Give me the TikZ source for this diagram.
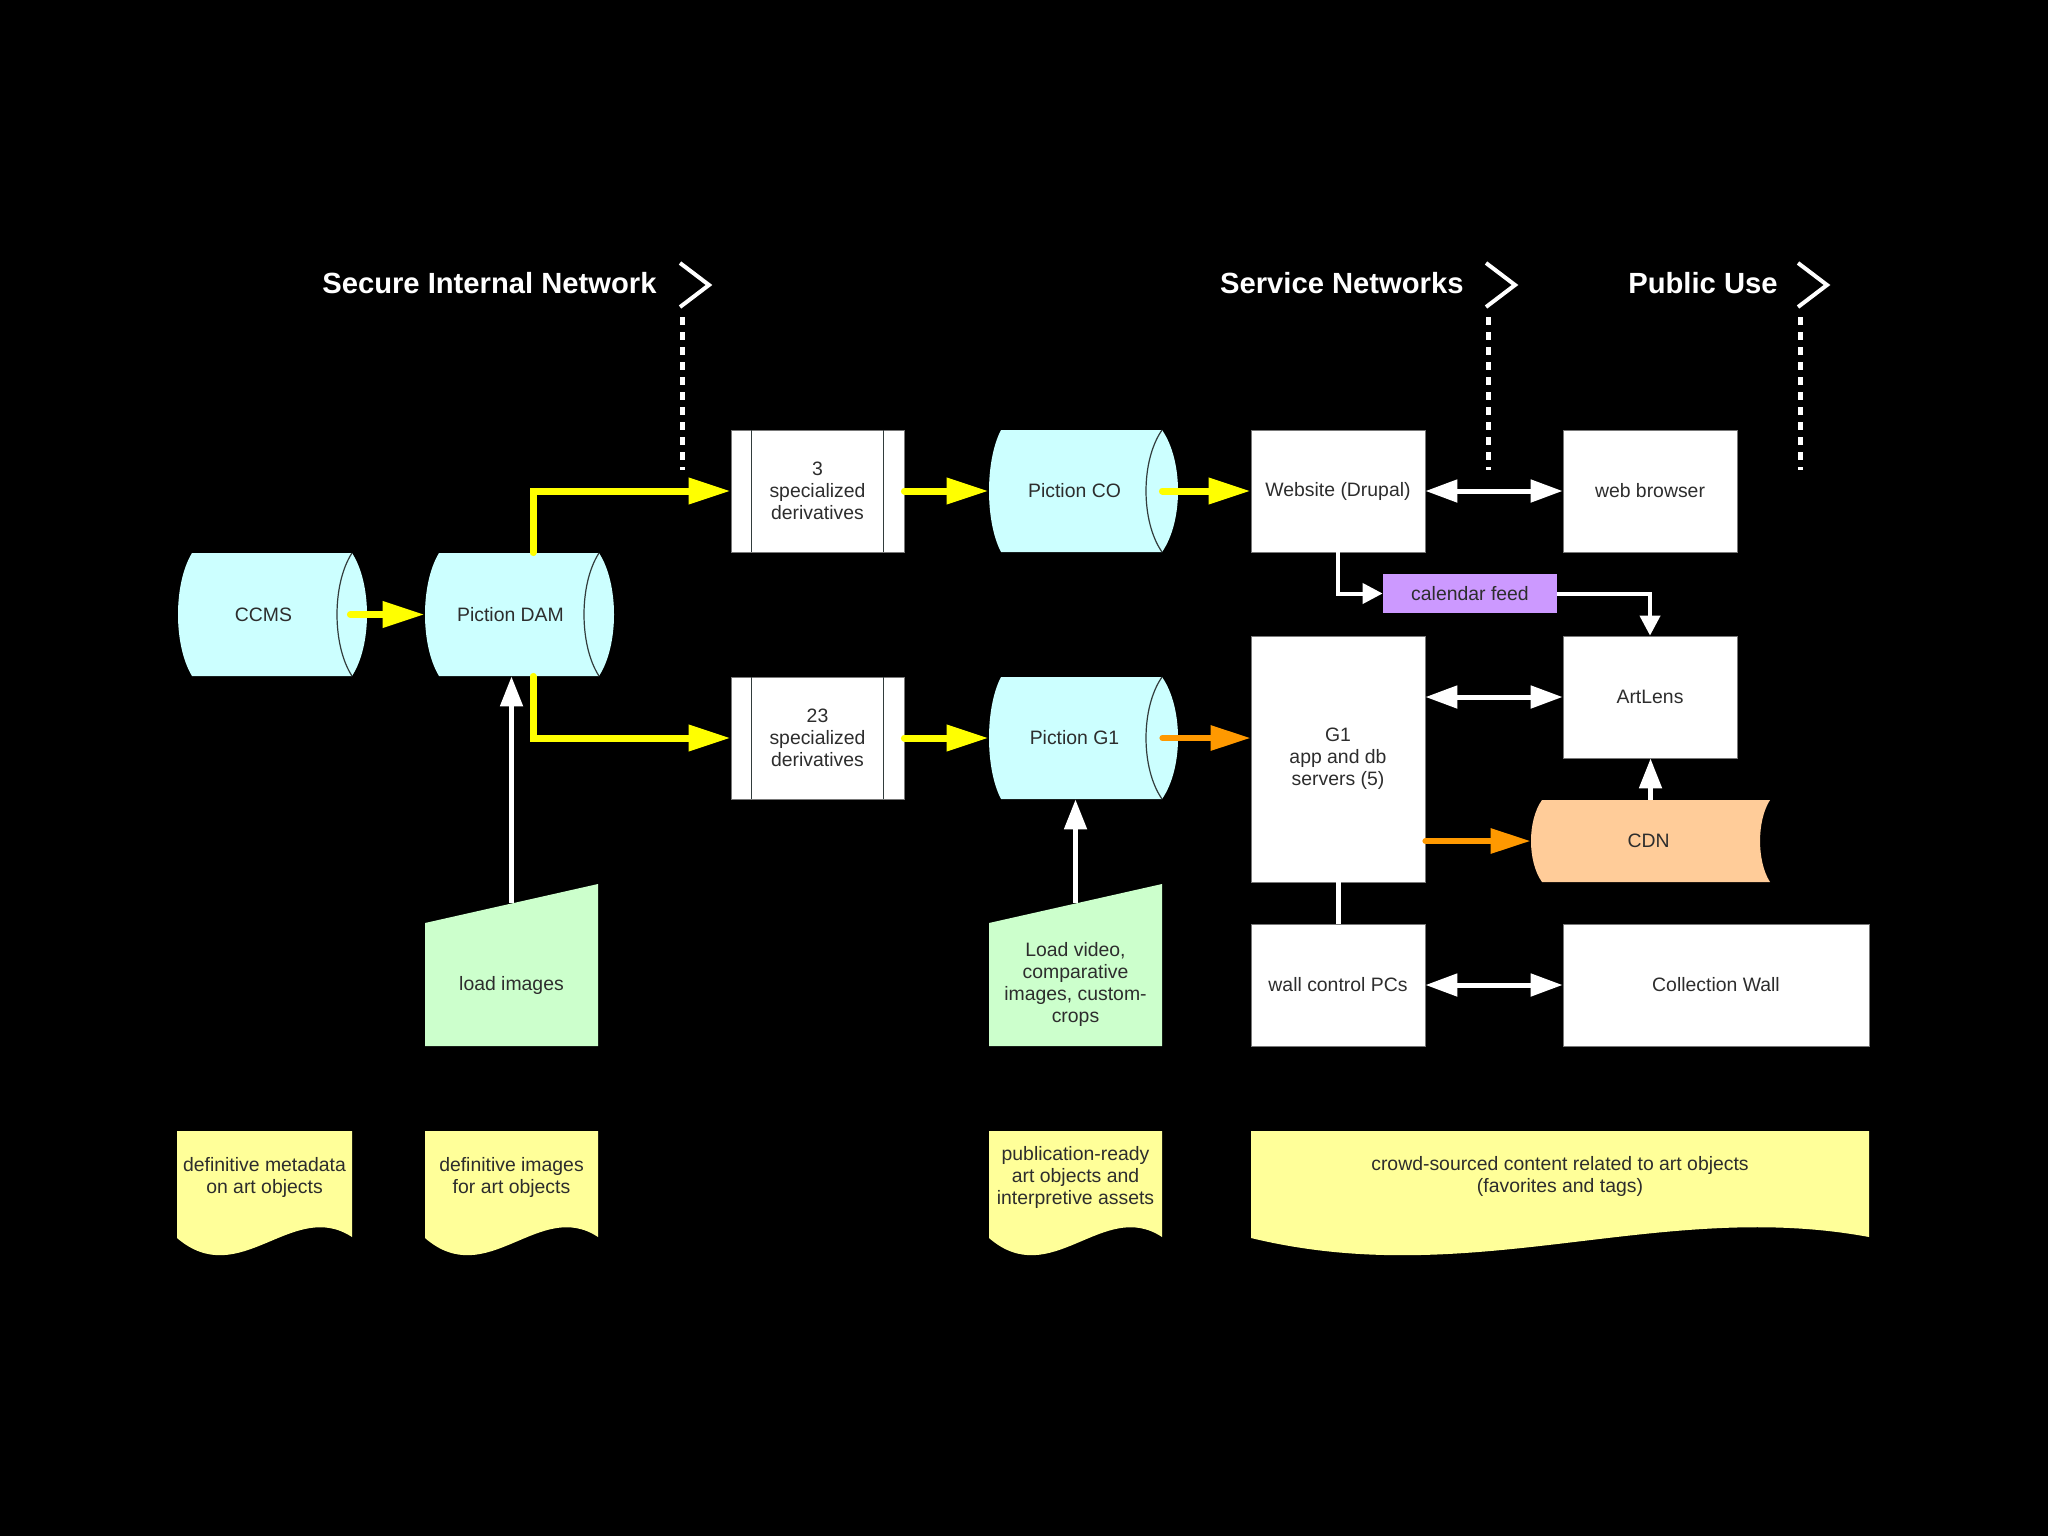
\documentclass[tikz,border=0pt]{standalone}
\usepackage{fontspec}
\setmainfont{Liberation Sans}
\usetikzlibrary{arrows.meta,calc}
\definecolor{cyanfill}{RGB}{204,255,255}
\definecolor{greenfill}{RGB}{204,255,204}
\definecolor{notefill}{RGB}{255,255,153}
\definecolor{purplefill}{RGB}{204,153,255}
\definecolor{cdnfill}{RGB}{255,204,153}
\definecolor{yarrowc}{RGB}{255,255,0}
\definecolor{oarrowc}{RGB}{255,153,0}
\definecolor{txt}{RGB}{45,45,45}
\definecolor{edgec}{RGB}{120,120,120}
\definecolor{arcc}{RGB}{50,60,60}
% x0 y0 x1 y1 dl dr
\newcommand\cylshape[6]{%
  \fill[cyanfill] ({#1+#5},#2) -- ({#3-#6},#2)
    .. controls ({#3+#6/3},{#2+(#4-#2)/4}) and ({#3+#6/3},{#4-(#4-#2)/4}) .. ({#3-#6},#4)
    -- ({#1+#5},#4)
    .. controls ({#1-#5/3},{#4-(#4-#2)/4}) and ({#1-#5/3},{#2+(#4-#2)/4}) .. cycle;
  \draw[arcc, line width=0.6pt] ({#3-#6},#2)
    .. controls ({#3-7*#6/3},{#2+(#4-#2)/4}) and ({#3-7*#6/3},{#4-(#4-#2)/4}) .. ({#3-#6},#4);
}
% x0 y0 x1 yb
\newcommand\noteshape[4]{%
  \fill[notefill] (#1,#2) -- (#3,#2) -- (#3,#4)
    .. controls ({#3-0.34*(#3-#1)},{#4-39}) and ({#3-0.64*(#3-#1)},{#4+55}) .. (#1,{#4+1}) -- cycle;
}
\begin{document}
\begin{tikzpicture}[x=0.5pt,y=-0.5pt,
  lbl/.style={font=\fontsize{9.7}{11}\selectfont, text=txt, align=center, inner sep=0pt},
  boxw/.style={lbl, draw=edgec, line width=0.4pt, fill=white},
  shapebox/.style={inner sep=0pt, draw=none},
  titlestyle/.style={font=\fontsize{14.6}{16}\selectfont\bfseries, text=white, inner sep=0pt, anchor=east},
  yarr/.style={draw=yarrowc, line width=3.5pt, line cap=round, -{Triangle[length=21pt,width=12.5pt]}},
  oarr/.style={draw=oarrowc, line width=3pt, line cap=round, -{Triangle[length=20pt,width=12pt]}},
  warr/.style={draw=white, line width=2.5pt, -{Triangle[length=15pt,width=11pt]}},
  warrs/.style={draw=white, line width=2pt, -{Triangle[length=10pt,width=10pt]}},
  wdbl/.style={draw=white, line width=2.5pt, {Triangle[length=16pt,width=11pt]}-{Triangle[length=16pt,width=11pt]}},
  wline/.style={draw=white, line width=2.5pt},
  divider/.style={draw=white, line width=2.5pt, dash pattern=on 4pt off 3.5pt},
  chev/.style={draw=white, line width=2pt, line join=miter}
]
\fill[black] (0,0) rectangle (2048,1536);
\useasboundingbox (0,0) rectangle (2048,1536);

% titles and network dividers
\node[titlestyle] (tsec) at (657,283) {Secure Internal Network};
\node[titlestyle] (tsvc) at (1464,283) {Service Networks};
\node[titlestyle] (tpub) at (1778,283) {Public Use};
\draw[chev] (680,263) -- (709,285) -- (680,307);
\draw[divider] (682,317) -- (682,470);
\draw[chev] (1486,263) -- (1515,285) -- (1486,307);
\draw[divider] (1488,317) -- (1488,470);
\draw[chev] (1798,263) -- (1827,285) -- (1798,307);
\draw[divider] (1800,317) -- (1800,470);

% cylinders
\cylshape{178}{553}{367}{676}{14}{15}
\node[shapebox, minimum width=94.5pt, minimum height=61.5pt,
  label={[lbl, xshift=-4.5pt]center:CCMS}] (ccms) at (272.5,614.5) {};
\cylshape{425}{553}{614}{676}{14}{15}
\node[shapebox, minimum width=94.5pt, minimum height=61.5pt,
  label={[lbl, xshift=-4.5pt]center:Piction DAM}] (dam) at (519.5,614.5) {};
\cylshape{989}{430}{1178}{552}{12}{16}
\node[shapebox, minimum width=94.5pt, minimum height=61pt,
  label={[lbl, xshift=-4.5pt]center:Piction CO}] (pco) at (1083.5,491) {};
\cylshape{989}{677}{1178}{799}{12}{16}
\node[shapebox, minimum width=94.5pt, minimum height=61pt,
  label={[lbl, xshift=-4.5pt]center:Piction G1}] (pg1) at (1083.5,738) {};

% CDN (stored data)
\fill[cdnfill] (1542,800) -- (1770,800)
  .. controls (1756.7,820.5) and (1756.7,861.5) .. (1770,882)
  -- (1542,882)
  .. controls (1527.3,861.5) and (1527.3,820.5) .. cycle;
\node[shapebox, minimum width=119.5pt, minimum height=41pt,
  label={[lbl, xshift=-1pt]center:CDN}] (cdn) at (1650.5,841) {};

% derivative boxes
\node[boxw, minimum width=86.5pt, minimum height=61pt] (spec3) at (817.5,491) {3\\specialized\\derivatives};
\draw[arcc, line width=0.6pt] ($(spec3.north west)+(21,0)$) -- ($(spec3.south west)+(21,0)$);
\draw[arcc, line width=0.6pt] ($(spec3.north east)+(-21,0)$) -- ($(spec3.south east)+(-21,0)$);
\node[boxw, minimum width=86.5pt, minimum height=61pt] (spec23) at (817.5,738) {23\\specialized\\derivatives};
\draw[arcc, line width=0.6pt] ($(spec23.north west)+(21,0)$) -- ($(spec23.south west)+(21,0)$);
\draw[arcc, line width=0.6pt] ($(spec23.north east)+(-21,0)$) -- ($(spec23.south east)+(-21,0)$);

% white boxes
\node[boxw, minimum width=87pt, minimum height=61pt] (web) at (1338,491) {Website (Drupal)};
\node[boxw, minimum width=87pt, minimum height=61pt] (browser) at (1650,491) {web browser};
\node[lbl, fill=purplefill, minimum width=87pt, minimum height=19.5pt] (cal) at (1470,593.5) {calendar feed};
\node[boxw, minimum width=87pt, minimum height=123pt] (g1) at (1338,759) {G1\\app and db\\servers (5)};
\node[boxw, minimum width=87pt, minimum height=61pt] (artlens) at (1650,697) {ArtLens};
\node[boxw, minimum width=87pt, minimum height=61pt] (wall) at (1338,985) {wall control PCs};
\node[boxw, minimum width=153pt, minimum height=61pt] (collwall) at (1716,985) {Collection Wall};

% manual input shapes
\fill[greenfill] (425,923) -- (598,884) -- (598,1046) -- (425,1046) -- cycle;
\node[lbl] (loadimg) at (511.5,985) {load images};
\coordinate (liin) at (511.5,903);
\fill[greenfill] (989,923) -- (1162,884) -- (1162,1046) -- (989,1046) -- cycle;
\node[lbl] (loadvid) at (1075.5,984) {Load video,\\comparative\\images, custom-\\crops};
\coordinate (lvin) at (1075.5,903);

% notes
\noteshape{177}{1131}{352}{1237}
\node[lbl] (note1) at (264.5,1177.5) {definitive metadata\\on art objects};
\noteshape{425}{1131}{598}{1237}
\node[lbl] (note2) at (511.5,1177.5) {definitive images\\for art objects};
\noteshape{989}{1131}{1162}{1237}
\node[lbl] (note3) at (1075.5,1177) {publication-ready\\art objects and\\interpretive assets};
\noteshape{1251}{1131}{1869}{1237}
\node[lbl] (note4) at (1560,1176) {crowd-sourced content related to art objects\\(favorites and tags)};

% yellow connectors
\coordinate (ccmsout) at ($(ccms.east)+(-17,0)$);
\draw[yarr] (ccmsout) -- (dam.west);
\draw[yarr] ($(dam.north)+(13.5,0)$) |- (spec3.west);
\draw[yarr] ($(dam.south)+(13.5,0)$) |- (spec23.west);
\draw[yarr] (spec3.east) -- (pco.west);
\draw[yarr] (spec23.east) -- (pg1.west);
\coordinate (pcoout) at ($(pco.east)+(-16,0)$);
\draw[yarr] (pcoout) -- (web.west);

% orange connectors
\coordinate (pg1out) at ($(pg1.east)+(-16,0)$);
\draw[oarr] (pg1out) -- (pg1out -| g1.west);
\draw[oarr] (cdn.west -| g1.east) -- (cdn.west);

% white connectors
\draw[wdbl] (web.east) -- (browser.west);
\draw[wdbl] (artlens.west -| g1.east) -- (artlens.west);
\draw[wdbl] (wall.east) -- (collwall.west);
\draw[warr] (cdn.north) -- (cdn.north |- artlens.south);
\draw[wline] (g1.south) -- (wall.north);
\draw[warrs] (web.south) |- (cal.west);
\draw[warrs] (cal.east) -| (artlens.north);
\draw[warr] (liin) -- (liin |- dam.south);
\draw[warr] (lvin) -- (lvin |- pg1.south);
\end{tikzpicture}
\end{document}
